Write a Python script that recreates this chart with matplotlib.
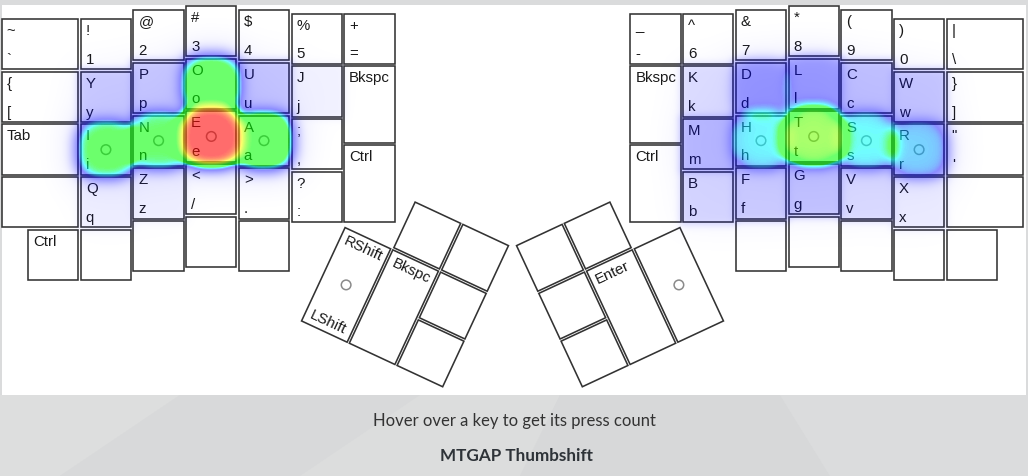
import math
import numpy as np
import matplotlib
matplotlib.use("Agg")
import matplotlib.pyplot as plt
from matplotlib.patches import Polygon, Rectangle, Circle
from matplotlib.colors import LinearSegmentedColormap

W_PX, H_PX = 1028, 476

# ---------------- data ----------------
# Left hand columns, outer -> inner: (top legend, bottom legend, height in key units)
left_cols = [
    [("~", "`", 1), ("{", "[", 1), ("Tab", "", 1), ("", "", 1)],
    [("!", "1", 1), ("Y", "y", 1), ("I", "i", 1), ("Q", "q", 1), ("", "", 1)],
    [("@", "2", 1), ("P", "p", 1), ("N", "n", 1), ("Z", "z", 1), ("", "", 1)],
    [("#", "3", 1), ("O", "o", 1), ("E", "e", 1), ("<", "/", 1), ("", "", 1)],
    [("$", "4", 1), ("U", "u", 1), ("A", "a", 1), (">", ".", 1), ("", "", 1)],
    [("%", "5", 1), ("J", "j", 1), (";", ",", 1), ("?", ":", 1)],
    [("+", "=", 1), ("Bkspc", "", 1.5), ("Ctrl", "", 1.5)],
]
# Right hand columns, outer -> inner (mirror of the left)
right_cols = [
    [("|", "\\", 1), ("}", "]", 1), ('"', "'", 1), ("", "", 1)],
    [(")", "0", 1), ("W", "w", 1), ("R", "r", 1), ("X", "x", 1), ("", "", 1)],
    [("(", "9", 1), ("C", "c", 1), ("S", "s", 1), ("V", "v", 1), ("", "", 1)],
    [("*", "8", 1), ("L", "l", 1), ("T", "t", 1), ("G", "g", 1), ("", "", 1)],
    [("&", "7", 1), ("D", "d", 1), ("H", "h", 1), ("F", "f", 1), ("", "", 1)],
    [("^", "6", 1), ("K", "k", 1), ("M", "m", 1), ("B", "b", 1)],
    [("_", "-", 1), ("Bkspc", "", 1.5), ("Ctrl", "", 1.5)],
]
left_extra_key = ("Ctrl", "")
right_extra_key = ("", "")

# thumb clusters: (x, y, w, h) in key units, legends
thumb_geom = [(1, -1, 1, 1), (2, -1, 1, 1), (0, 0, 1, 2), (1, 0, 1, 2), (2, 0, 1, 1), (2, 1, 1, 1)]
left_thumb_labels = [("", ""), ("", ""), ("RShift", "LShift"), ("Bkspc", ""), ("", ""), ("", "")]
right_thumb_labels = [("", ""), ("", ""), ("", ""), ("Enter", ""), ("", ""), ("", "")]
thumb_home = [False, False, True, False, False, False]

home_keys = ["I", "N", "E", "A", "H", "T", "S", "R"]

# estimated press counts (relative)
press_counts = {
    "E": 127, "T": 93, "A": 82, "O": 76, "I": 72, "N": 70, "S": 62, "H": 61,
    "R": 57, "D": 43, "L": 41, "M": 26, "C": 22, "G": 21, "U": 20, "W": 20,
    "P": 19, "Y": 18, "F": 17, "B": 13, "V": 11, "K": 10, "X": 5, "Q": 4,
    "Z": 4, "J": 3,
}

title_text = "MTGAP Thumbshift"
hint_text = "Hover over a key to get its press count"

# ---------------- geometry ----------------
U = 52.7
X0, Y0 = 0.5, 4.7
MIRROR_SUM = 1025.0
col_x = [0, 1.5, 2.5, 3.5, 4.5, 5.5, 6.5]
col_w = [1.5, 1, 1, 1, 1, 1, 1]
col_stagger = [0.25, 0.25, 0.08, 0.0, 0.08, 0.145, 0.145]
extra_pos = (0.5, 4.25)
THUMB_ORIGIN = (344.5, 226.0)
THUMB_ANGLE = math.radians(25)
GAP = 1.2

keys = []  # axis-aligned keys


def add_key(x, y, w, h, top, bot, mirror):
    if mirror:
        x = MIRROR_SUM - (x + w)
    keys.append(dict(x=x, y=y, w=w, h=h, top=top, bot=bot,
                     count=press_counts.get(top, 0), home=top in home_keys))


for mirror, cols, extra in ((False, left_cols, left_extra_key), (True, right_cols, right_extra_key)):
    for i, col in enumerate(cols):
        yu = col_stagger[i]
        for top, bot, hu in col:
            add_key(X0 + col_x[i] * U, Y0 + yu * U, col_w[i] * U, hu * U, top, bot, mirror)
            yu += hu
    add_key(X0 + extra_pos[0] * U, Y0 + extra_pos[1] * U, U, U, extra[0], extra[1], mirror)

# ---------------- figure ----------------
fig = plt.figure(figsize=(W_PX / 100, H_PX / 100), dpi=100)
fig.patch.set_facecolor("#dadbdc")
ax = fig.add_axes([0, 0, 1, 1])
ax.set_xlim(0, W_PX)
ax.set_ylim(H_PX, 0)
ax.axis("off")

# subtle low-poly texture of the page background
tex = [
    ([(0, 395), (180, 395), (60, 476), (0, 476)], "#dddede"),
    ([(180, 395), (420, 395), (300, 476), (60, 476)], "#d8d9da"),
    ([(420, 395), (560, 395), (520, 476), (300, 476)], "#dcdddd"),
    ([(560, 395), (780, 395), (830, 476), (520, 476)], "#d7d8d9"),
    ([(780, 395), (1028, 395), (1028, 476), (830, 476)], "#dbdcdd"),
]
for pts, col in tex:
    ax.add_patch(Polygon(pts, closed=True, fc=col, ec="none", zorder=0))

PANEL = (2, 5, 1026, 395)
ax.add_patch(Rectangle((PANEL[0], PANEL[1]), PANEL[2] - PANEL[0], PANEL[3] - PANEL[1],
                       fc="white", ec="none", zorder=1))

LABEL_KW = dict(fontsize=10.8, family=["Liberation Sans", "DejaVu Sans"], color="#1a1a1a",
                ha="left", va="baseline", zorder=3)
BORDER = "#333333"

for k in keys:
    ax.add_patch(Rectangle((k["x"] + GAP, k["y"] + GAP), k["w"] - 2 * GAP, k["h"] - 2 * GAP,
                           fc="white", ec=BORDER, lw=1.15, zorder=2))
    if k["top"]:
        ax.text(k["x"] + GAP + 5, k["y"] + GAP + 16, k["top"], **LABEL_KW)
    if k["bot"]:
        ax.text(k["x"] + GAP + 5, k["y"] + k["h"] - GAP - 5.5, k["bot"], **LABEL_KW)
    if k["home"]:
        ax.add_patch(Circle((k["x"] + k["w"] / 2, k["y"] + k["h"] / 2), 4.8, fill=False,
                            ec="#8a8a8a", lw=1.1, zorder=4))

# thumb clusters
ca, sa = math.cos(THUMB_ANGLE), math.sin(THUMB_ANGLE)


def thumb_pt(lx, ly, mirror):
    px = THUMB_ORIGIN[0] + lx * ca - ly * sa
    py = THUMB_ORIGIN[1] + lx * sa + ly * ca
    if mirror:
        px = MIRROR_SUM - px
    return px, py


for mirror, labels in ((False, left_thumb_labels), (True, right_thumb_labels)):
    rot = 25 if mirror else -25
    for (tx, ty, tw, th), (top, bot), home in zip(thumb_geom, labels, thumb_home):
        x0, y0 = tx * U + GAP, ty * U + GAP
        x1, y1 = (tx + tw) * U - GAP, (ty + th) * U - GAP
        corners = [thumb_pt(a, b, mirror) for a, b in ((x0, y0), (x1, y0), (x1, y1), (x0, y1))]
        ax.add_patch(Polygon(corners, closed=True, fc="white", ec=BORDER, lw=1.15, zorder=2))
        lx = (x1 - 5) if mirror else (x0 + 5)
        if top:
            px, py = thumb_pt(lx, y0 + 16, mirror)
            ax.text(px, py, top, rotation=rot, rotation_mode="anchor", **LABEL_KW)
        if bot:
            px, py = thumb_pt(lx, y1 - 5.5, mirror)
            ax.text(px, py, bot, rotation=rot, rotation_mode="anchor", **LABEL_KW)
        if home:
            cx, cy = thumb_pt((x0 + x1) / 2, (y0 + y1) / 2, mirror)
            ax.add_patch(Circle((cx, cy), 4.8, fill=False, ec="#8a8a8a", lw=1.1, zorder=4))


# ---------------- heat overlay ----------------
def np_erf(z):
    # Abramowitz & Stegun 7.1.26
    s = np.sign(z)
    z = np.abs(z)
    t = 1.0 / (1.0 + 0.3275911 * z)
    y = 1.0 - (((((1.061405429 * t - 1.453152027) * t) + 1.421413741) * t - 0.284496736) * t
               + 0.254829592) * t * np.exp(-z * z)
    return s * y


xs = np.arange(W_PX) + 0.5
ys = np.arange(H_PX) + 0.5
YY, XX = np.meshgrid(ys, xs, indexing="ij")


def box1d(c, a, b, s):
    r = s * math.sqrt(2)
    return 0.5 * (np_erf((c - a) / r) - np_erf((c - b) / r))


cmax = max(press_counts.values())
remain = np.ones((H_PX, W_PX))
EXP = 1.5
SE_P = 2.6
for k in keys:
    if k["count"] <= 0:
        continue
    a_k = k["count"] / cmax
    a0, a1 = k["x"] - EXP, k["x"] + k["w"] + EXP
    b0, b1 = k["y"] - EXP, k["y"] + k["h"] + EXP
    wide = np.outer(box1d(ys, b0, b1, 16), box1d(xs, a0, a1, 16))
    box = 0.88 * np.outer(box1d(ys, b0, b1, 3.5), box1d(xs, a0, a1, 3.5)) + 0.12 * wide
    beta = 0.85 * min(1.0, max(0.0, (k["count"] - 25) / 35))
    prof = box
    if beta > 0:
        cx, cy = k["x"] + k["w"] / 2, k["y"] + k["h"] / 2
        r = (np.abs(XX - cx) ** SE_P + np.abs(YY - cy) ** SE_P) ** (1 / SE_P)
        R = 28.5 + 4 * a_k
        blob = 0.5 * (1 - np_erf((r - R) / (5.5 * math.sqrt(2))))
        blob = 0.86 * blob + 0.14 * wide
        prof = (1 - beta) * box + beta * blob
    remain *= (1 - a_k * prof)

c = np.clip(1 - remain, 0, 1)
stops = [(0.0, (0, 0, 1)), (0.36, (0, 0, 1)), (0.48, (0, 1, 1)), (0.54, (0, 1, 0)),
         (0.65, (0, 1, 0)), (0.81, (1, 1, 0)), (0.95, (1, 0, 0)), (1.0, (1, 0, 0))]
heat_cmap = LinearSegmentedColormap.from_list("heat", stops)
rgba = heat_cmap(c)
alpha = 0.58 * np.clip(c / 0.5, 0, 1) ** 0.75
inside = (XX > PANEL[0]) & (XX < PANEL[2]) & (YY > PANEL[1]) & (YY < PANEL[3])
rgba[..., 3] = np.where(inside, alpha, 0)
ax.imshow(rgba, extent=(0, W_PX, H_PX, 0), interpolation="bilinear", zorder=5, aspect="auto")

# ---------------- captions ----------------
ax.text(W_PX / 2, 421, hint_text, ha="center", va="center", fontsize=12,
        family=["Lato", "DejaVu Sans"], color="#333333", zorder=6)
ax.text(W_PX / 2 + 2, 456, title_text, ha="center", va="center", fontsize=12.3, fontweight="bold",
        family=["Lato", "DejaVu Sans"], color="#2e3338", zorder=6)

ax.set_xlim(0, W_PX)
ax.set_ylim(H_PX, 0)
fig.savefig("out.png", dpi=100, facecolor=fig.get_facecolor())
